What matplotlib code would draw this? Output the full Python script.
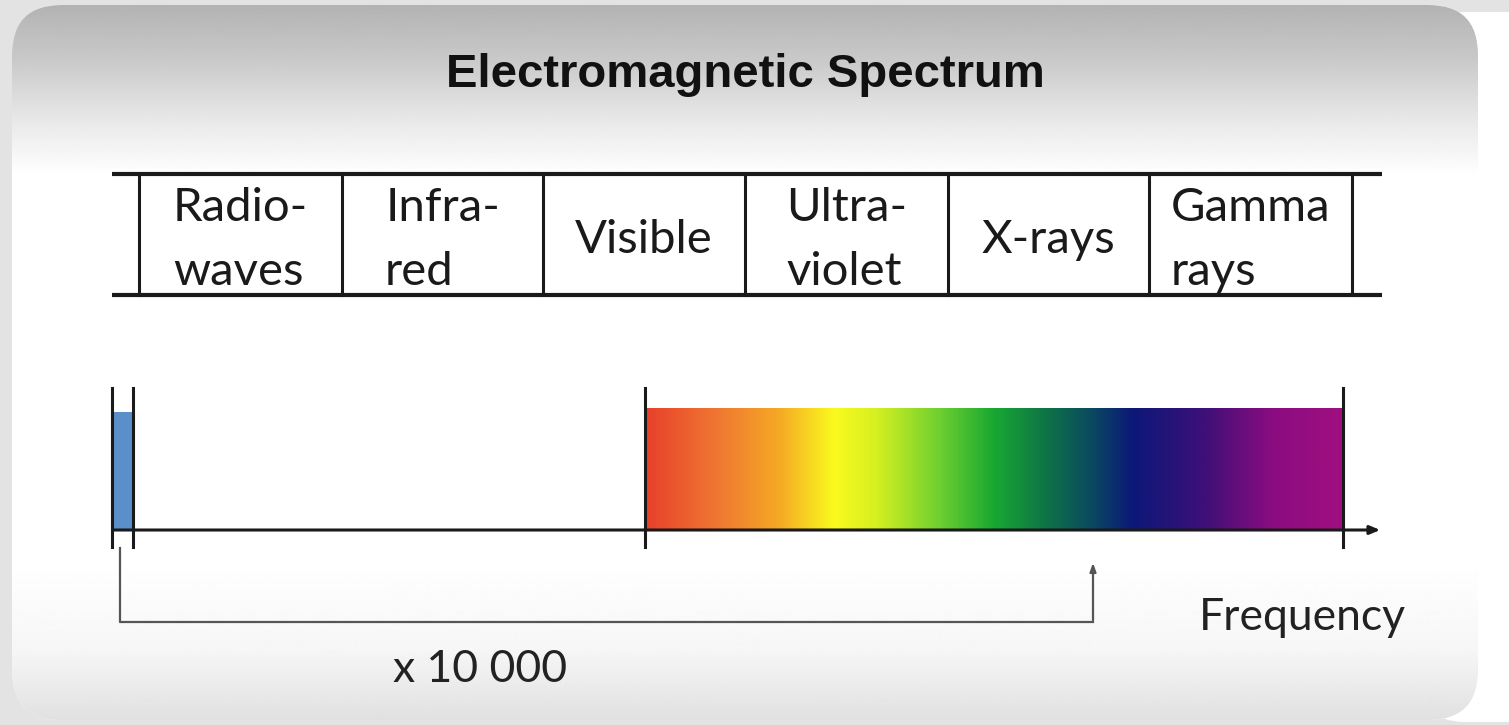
import matplotlib
matplotlib.use("Agg")
import matplotlib.pyplot as plt
import numpy as np
from matplotlib.patches import FancyBboxPatch, Rectangle
from matplotlib.colors import LinearSegmentedColormap

# band table (positions in diagram px)
band_labels = ["Radio-\nwaves", "Infra-\nred", "Visible", "Ultra-\nviolet", "X-rays", "Gamma\nrays"]
band_edges = [139, 342, 543, 745, 948, 1149, 1352]

# frequency axis sketch
radio_span = [112, 133]
visible_span = [645, 1343]
axis_span = [110, 1383]
bracket_x = [120, 1093]

title = "Electromagnetic Spectrum"
axis_label = "Frequency"
factor_label = "x 10 000"

# rainbow colours, red -> violet
rainbow_stops = [0.0, 0.10, 0.19, 0.27, 0.33, 0.42, 0.50, 0.58, 0.64, 0.70, 0.80, 0.90, 1.0]
rainbow_colors = ["#e8402a", "#ef7632", "#f5a825", "#fafa1e", "#d6f020", "#70d030", "#18a832",
                  "#0e7048", "#0a4a60", "#0c1878", "#3c1078", "#8a0c80", "#a00f80"]

W, H = 1509, 725
fig = plt.figure(figsize=(W / 100, H / 100), dpi=100)
fig.patch.set_facecolor("#e3e3e3")
ax = fig.add_axes([0, 0, 1, 1])
ax.set_facecolor("#e3e3e3")

# white slide edge behind, on the right
back = FancyBboxPatch((1420, 12), 200, 710, boxstyle="round,pad=0,rounding_size=45",
                      fc="white", ec="none", zorder=0)
ax.add_patch(back)

# main slide box with grey gradient at the top
box = FancyBboxPatch((12, 5), 1466, 715, boxstyle="round,pad=0,rounding_size=50",
                     fc="white", ec="none", zorder=1)
ax.add_patch(box)
ys = np.arange(5, 721)
shade = np.interp(ys, [5, 60, 120, 175, 560, 650, 720], [0.70, 0.79, 0.91, 1.0, 1.0, 0.965, 0.88])
grad = np.repeat(shade[:, None], 2, axis=1)
im = ax.imshow(grad, cmap="gray", vmin=0, vmax=1, extent=(12, 1478, 720, 5),
               aspect="auto", origin="upper", zorder=1.5, interpolation="bilinear")
im.set_clip_path(box)

ax.text(745, 87, title, ha="center", va="baseline", fontsize=34, fontweight="bold",
        family="Liberation Sans", color="#111111", zorder=5)

# table
top_y, bot_y = 174, 295
ax.plot([112, 1382], [top_y, top_y], color="#1a1a1a", lw=3, zorder=4, solid_capstyle="butt")
ax.plot([112, 1382], [bot_y, bot_y], color="#1a1a1a", lw=3, zorder=4, solid_capstyle="butt")
for xe in band_edges:
    ax.plot([xe, xe], [top_y, bot_y], color="#1a1a1a", lw=2.2, zorder=4)
for i, lab in enumerate(band_labels):
    xc = (band_edges[i] + band_edges[i + 1]) / 2
    ax.text(xc, 240, lab, ha="center", va="center", multialignment="left",
            fontsize=34, family="Lato", color="#1a1a1a", linespacing=1.66, zorder=5)

# axis
ax.annotate("", xy=(axis_span[1], 530), xytext=(axis_span[0], 530),
            arrowprops=dict(arrowstyle="-|>,head_length=0.6,head_width=0.25", color="#1a1a1a", lw=2.2),
            zorder=4)

# radio bar
ax.add_patch(Rectangle((radio_span[0], 412), radio_span[1] - radio_span[0], 118,
                       fc="#5a8fc9", ec="none", zorder=3))

# visible rainbow
cmap = LinearSegmentedColormap.from_list("rainbow_vis", list(zip(rainbow_stops, rainbow_colors)))
ax.imshow(np.linspace(0, 1, 512)[None, :], cmap=cmap, extent=(visible_span[0], visible_span[1], 530, 408),
          aspect="auto", origin="upper", zorder=3, interpolation="bilinear")

for xt in radio_span + visible_span:
    ax.plot([xt, xt], [388, 547], color="#1a1a1a", lw=2.2, zorder=4)

# bracket with arrow
ax.plot([bracket_x[0], bracket_x[0], bracket_x[1]], [548, 622, 622], color="#555555", lw=1.6, zorder=4)
ax.annotate("", xy=(bracket_x[1], 560), xytext=(bracket_x[1], 623),
            arrowprops=dict(arrowstyle="-|>,head_length=0.5,head_width=0.18", color="#555555", lw=1.6),
            zorder=4)

ax.text(1302, 630, axis_label, ha="center", va="baseline", fontsize=32, family="Lato",
        color="#222222", zorder=5)
ax.text(480, 682, factor_label, ha="center", va="baseline", fontsize=32, family="Lato",
        color="#222222", zorder=5)

ax.set_xlim(0, W)
ax.set_ylim(H, 0)
ax.axis("off")
fig.savefig("out.png", dpi=100, facecolor=fig.get_facecolor())
